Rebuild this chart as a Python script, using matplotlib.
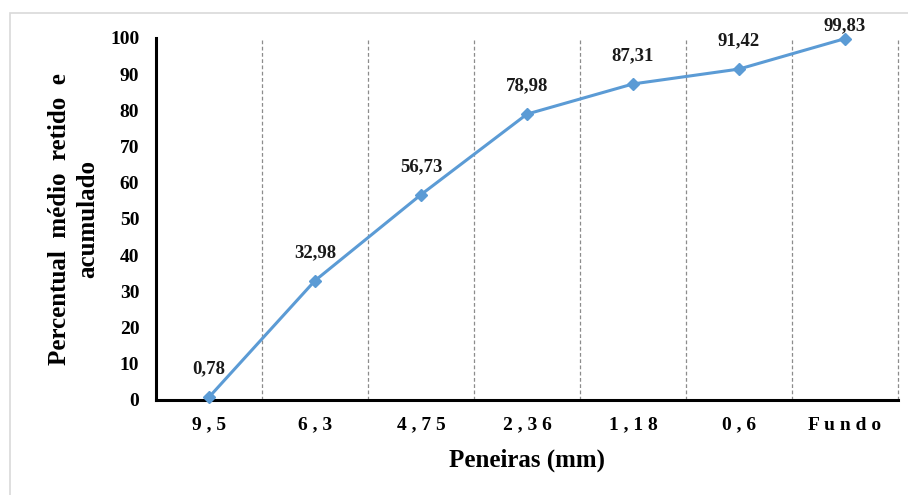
import numpy as np
import matplotlib.pyplot as plt
from matplotlib.patches import Rectangle

# data
peneiras = ["9,5", "6,3", "4,75", "2,36", "1,18", "0,6", "Fundo"]
retido_acumulado = [0.78, 32.98, 56.73, 78.98, 87.31, 91.42, 99.83]
y_ticks = [0, 10, 20, 30, 40, 50, 60, 70, 80, 90, 100]

plt.rcParams['font.family'] = ['Liberation Serif', 'DejaVu Serif']
plt.rcParams['font.weight'] = 'bold'

fig = plt.figure(figsize=(9.08, 4.95), dpi=100)
ax = fig.add_axes([156 / 908, 1 - 400 / 495, 742 / 908, 362 / 495])

# light border around the chart area
fig.patches.append(Rectangle((10 / 908, -0.05), 1.0, 1 - 13 / 495 + 0.05,
                             transform=fig.transFigure, fill=False,
                             edgecolor="#d9d9d9", linewidth=1.2))

x = np.arange(len(peneiras))
ax.plot(x, retido_acumulado, color="#5b9bd5", linewidth=2.2,
        marker="D", markersize=6.5, zorder=3, clip_on=False)

for i, (xi, v) in enumerate(zip(x, retido_acumulado)):
    off = 14 if i < len(x) - 1 else 3   # last label sits closer, as in the original
    ax.annotate(f"{v:.2f}".replace(".", ","), (xi, v), xytext=(0, off),
                textcoords="offset points", ha="center", va="bottom",
                fontsize=13.5, fontweight="bold", color="#1a1a1a")

ax.set_xlim(-0.5, len(peneiras) - 0.5)
ax.set_ylim(0, 100)
ax.set_yticks(y_ticks)
ax.set_xticks(x)
ax.set_xticklabels([" ".join(p) for p in peneiras], fontsize=14, fontweight="bold")

# dashed separators between categories
for b in np.arange(len(peneiras)) + 0.5:
    ax.axvline(b, linestyle=(0, (3, 2)), color="#8c8c8c", linewidth=0.9,
               clip_on=False, zorder=1)

ax.tick_params(axis="both", which="both", length=0)
ax.tick_params(axis="x", pad=12)
ax.tick_params(axis="y", pad=12, labelsize=14)

for s in ["top", "right"]:
    ax.spines[s].set_visible(False)
for s in ["left", "bottom"]:
    ax.spines[s].set_linewidth(2.2)
    ax.spines[s].set_color("black")

ax.set_xlabel("Peneiras (mm)", fontsize=18, fontweight="bold", labelpad=11)
ax.set_ylabel("Percentual  médio  retido  e\nacumulado", fontsize=18,
              fontweight="bold", labelpad=8, linespacing=1.25)

fig.savefig("out.png", dpi=100)
